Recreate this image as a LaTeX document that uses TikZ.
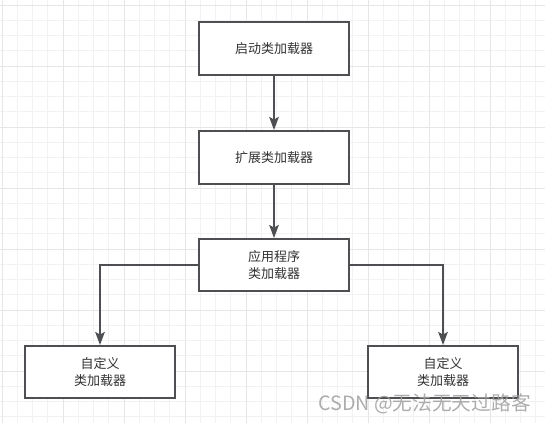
\documentclass[tikz,border=0pt]{standalone}
\usepackage{fontspec}
\newfontfamily\cjk{Noto Sans CJK SC}
\usetikzlibrary{arrows.meta}
\definecolor{minorgrid}{HTML}{F2F2F2}
\definecolor{majorgrid}{HTML}{E6E6E6}
\definecolor{boxline}{HTML}{4D4F52}
\definecolor{boxtext}{HTML}{333333}
\tikzset{
  loader/.style={draw=boxline, line width=2pt, fill=white, minimum width=150pt, minimum height=53pt,
    inner sep=0pt, align=center, text=boxtext, font=\cjk\fontsize{13pt}{16.5pt}\selectfont},
  link/.style={draw=boxline, line width=2pt, -{Stealth[length=13pt,width=9.5pt,inset=2.5pt]}},
}
\begin{document}
\begin{tikzpicture}[x=1pt,y=-1pt]
\useasboundingbox (0,0) rectangle (545,423);
\fill[white] (0,0) rectangle (545,423);
% minor grid
\foreach \i in {0,...,36} {
  \draw[minorgrid, line width=1pt] ({2+15.25*\i},0) -- ({2+15.25*\i},423);
}
\foreach \j in {0,...,28} {
  \draw[minorgrid, line width=1pt] (0,{5+15.25*\j}) -- (545,{5+15.25*\j});
}
% major grid
\foreach \i in {0,...,9} {
  \draw[majorgrid, line width=1pt] ({2+61*\i},0) -- ({2+61*\i},423);
}
\foreach \j in {0,...,7} {
  \draw[majorgrid, line width=1pt] (0,{5+61*\j}) -- (545,{5+61*\j});
}
% boxes
\node[loader] (boot) at (274,48.5) {启动类加载器};
\node[loader] (ext) at (274,157.5) {扩展类加载器};
\node[loader, minimum height=52pt] (app) at (274,265) {应用程序\\类加载器};
\node[loader, minimum height=52pt] (c1) at (100,372) {自定义\\类加载器};
\node[loader, minimum height=52pt] (c2) at (443,372) {自定义\\类加载器};
% connectors
\draw[link] (boot) -- (ext);
\draw[link] (ext) -- (app);
\draw[link] (app.west) -| (c1.north);
\draw[link] (app.east) -| (c2.north);
% watermark
\node[anchor=west, inner sep=0pt, text=gray!75, opacity=0.85, font=\cjk\fontsize{19.7pt}{21pt}\selectfont] (wm) at (318,404) {CSDN @无法无天过路客};
\end{tikzpicture}
\end{document}
